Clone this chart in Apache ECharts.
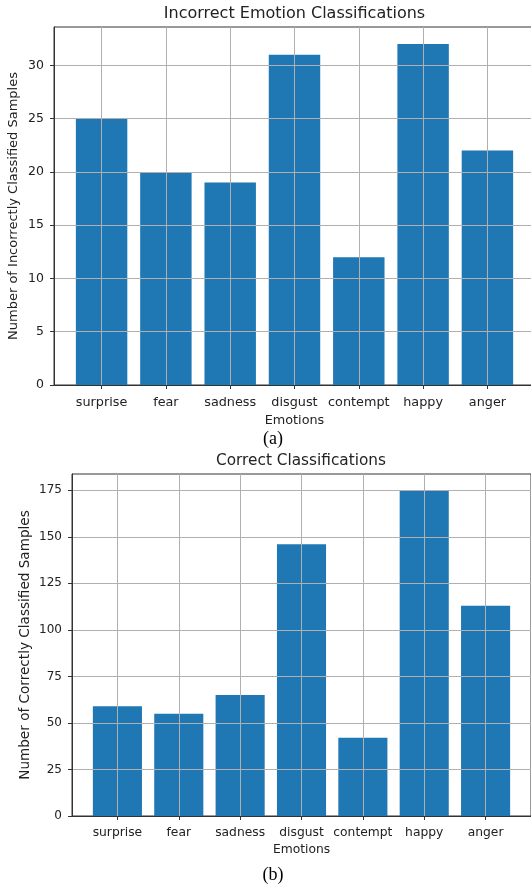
<!DOCTYPE html>
<html><head><meta charset="utf-8">
<script src="https://cdn.jsdelivr.net/npm/echarts@6/dist/echarts.min.js"></script>
<style>html,body{margin:0;padding:0;background:#fff}#c{width:531px;height:887px}</style>
</head><body><div id="c"></div>
<script>
const categories = ['surprise','fear','sadness','disgust','contempt','happy','anger'];
const incorrectValues = [25, 20, 19, 31, 12, 32, 22];
const correctValues = [59, 55, 65, 146, 42, 175, 113];
const incorrectTicks = [0, 5, 10, 15, 20, 25, 30];
const correctTicks = [0, 25, 50, 75, 100, 125, 150, 175];
const titleA = 'Incorrect Emotion Classifications';
const titleB = 'Correct Classifications';
const yNameA = 'Number of Incorrectly Classified Samples';
const yNameB = 'Number of Correctly Classified Samples';
const xName = 'Emotions';

const font = 'DejaVu Sans';
const idx = categories.map((_, i) => i);
const txt = '#222';
const spine = '#333';
const gridColor = '#b0b0b0';

function xAxis(gi, fs, nameGap) {
  return {
    type: 'value', gridIndex: gi, min: -0.74, max: categories.length - 1 + 0.74,
    name: xName, nameLocation: 'middle', nameGap: nameGap, nameMoveOverlap: false,
    nameTextStyle: {fontFamily: font, fontSize: fs, color: txt},
    axisLine: {show: true, onZero: false, lineStyle: {color: spine, width: 1}},
    axisTick: {show: true, customValues: idx, length: 4, lineStyle: {color: spine}},
    axisLabel: {customValues: idx, formatter: v => categories[Math.round(v)], fontFamily: font, fontSize: fs, color: txt, margin: 11, hideOverlap: false},
    splitLine: {show: true, lineStyle: {color: gridColor, width: 1}},
    z: 5
  };
}
function yAxis(gi, fs, nfs, ticks, max, name, nameGap) {
  return {
    type: 'value', gridIndex: gi, min: 0, max: max,
    name: name, nameLocation: 'middle', nameGap: nameGap, nameRotate: 90, nameMoveOverlap: false,
    nameTextStyle: {fontFamily: font, fontSize: nfs, color: txt},
    axisLine: {show: true, onZero: false, lineStyle: {color: spine, width: 1}},
    axisTick: {show: true, customValues: ticks, length: 4, lineStyle: {color: spine}},
    axisLabel: {customValues: ticks, fontFamily: font, fontSize: fs, color: txt, margin: 10},
    splitLine: {show: true, lineStyle: {color: gridColor, width: 1}},
    z: 5
  };
}
const maxA = Math.max(...incorrectValues) * 1.05;
const maxB = Math.max(...correctValues) * 1.05;

const chart = echarts.init(document.getElementById('c'), null, {renderer: 'canvas'});
chart.setOption({
  backgroundColor: '#fff',
  animation: false,
  grid: [
    {left: 54, top: 27, width: 481, height: 358, show: true, borderColor: spine, borderWidth: 1, containLabel: false, outerBoundsMode: 'none'},
    {left: 72, top: 474, width: 459, height: 342, show: true, borderColor: spine, borderWidth: 1, containLabel: false, outerBoundsMode: 'none'}
  ],
  xAxis: [xAxis(0, 12.8, 29), xAxis(1, 12.3, 28)],
  yAxis: [yAxis(0, 12.5, 13, incorrectTicks, maxA, yNameA, 34), yAxis(1, 12, 13.6, correctTicks, maxB, yNameB, 40)],
  series: [
    {type: 'bar', xAxisIndex: 0, yAxisIndex: 0, barWidth: '80%', data: incorrectValues.map((v, i) => [i, v]), itemStyle: {color: '#1f77b4'}, z: 2},
    {type: 'bar', xAxisIndex: 1, yAxisIndex: 1, barWidth: '80%', data: correctValues.map((v, i) => [i, v]), itemStyle: {color: '#1f77b4'}, z: 2}
  ],
  graphic: [
    {type: 'text', x: 294.5, y: 14, style: {text: titleA, font: '16px "DejaVu Sans"', fill: txt, textAlign: 'center', textVerticalAlign: 'middle'}},
    {type: 'text', x: 301, y: 461.5, style: {text: titleB, font: '15.3px "DejaVu Sans"', fill: txt, textAlign: 'center', textVerticalAlign: 'middle'}},
    {type: 'text', x: 273, y: 439, style: {text: '(a)', font: '18px "Liberation Serif"', fill: '#000', textAlign: 'center', textVerticalAlign: 'middle'}},
    {type: 'text', x: 273, y: 875, style: {text: '(b)', font: '18px "Liberation Serif"', fill: '#000', textAlign: 'center', textVerticalAlign: 'middle'}}
  ]
});
</script></body></html>
